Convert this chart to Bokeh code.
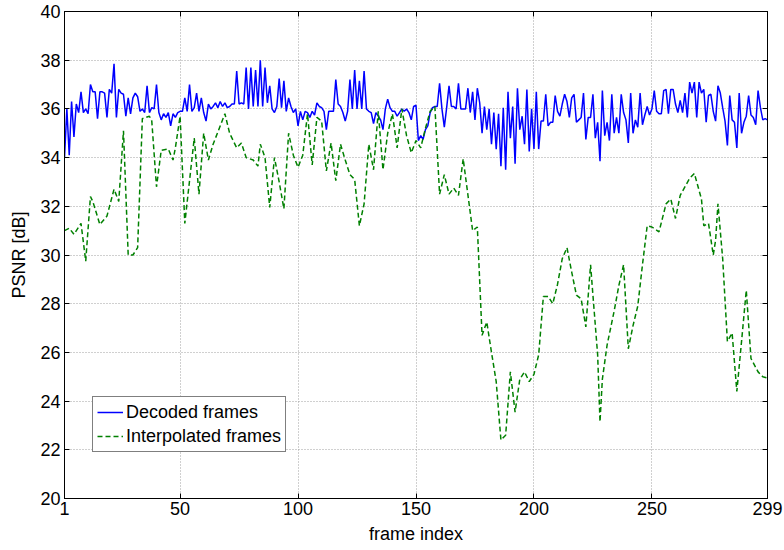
from bokeh.plotting import figure
from bokeh.models import Range1d, FixedTicker, LinearAxis, Legend, LegendItem, CustomJSTickFormatter
from bokeh.embed import file_html
from bokeh.resources import INLINE

# ---- data ----
decoded_frames = list(range(1, 300))
decoded_psnr = [
    34.0, 36.0, 34.1, 36.3, 34.85, 36.2, 35.85, 36.7, 35.85, 36.0,
    35.8, 37.0, 36.7, 36.7, 35.6, 36.7, 36.7, 36.65, 35.65, 36.8,
    36.65, 37.85, 35.65, 36.8, 36.65, 36.6, 35.7, 36.45, 35.8, 36.45,
    36.65, 36.5, 35.9, 36.0, 35.85, 36.95, 35.85, 36.05, 36.0, 37.0,
    35.85, 35.55, 35.8, 35.65, 35.85, 35.3, 35.8, 35.65, 35.85, 35.9,
    35.9, 36.45, 35.9, 37.0, 35.9, 36.05, 36.65, 35.9, 36.45, 35.85,
    35.5, 36.2, 36.0, 36.1, 36.25, 36.05, 36.3, 36.1, 36.25, 36.05,
    36.1, 36.2, 36.2, 37.55, 36.2, 36.25, 36.2, 37.7, 36.0, 37.7,
    36.1, 37.6, 36.1, 38.0, 36.1, 37.7, 36.25, 36.95, 36.0, 35.85,
    36.1, 37.25, 36.05, 37.15, 35.9, 36.45, 36.1, 35.85, 36.0, 35.3,
    35.9, 35.55, 35.9, 35.85, 35.65, 35.9, 35.75, 36.25, 36.1, 36.05,
    35.9, 35.15, 35.9, 35.9, 35.9, 37.2, 36.2, 36.1, 35.85, 35.5,
    35.9, 37.2, 36.0, 37.6, 36.0, 37.15, 36.0, 37.55, 36.0, 35.9,
    35.85, 35.4, 35.85, 35.7, 35.55, 35.15, 36.0, 36.4, 36.05, 35.9,
    35.9, 35.7, 35.85, 36.0, 35.9, 36.0, 35.85, 35.55, 36.1, 36.15,
    34.7, 34.9, 34.75, 35.15, 35.3, 35.85, 36.05, 36.1, 36.1, 37.05,
    36.0, 35.25, 36.05, 36.95, 36.1, 36.1, 36.0, 37.05, 36.0, 36.0,
    36.0, 36.85, 35.85, 36.7, 35.55, 36.85, 36.25, 35.0, 36.1, 35.15,
    36.0, 34.55, 35.85, 34.35, 35.8, 33.65, 36.05, 33.5, 36.7, 34.8,
    36.1, 33.75, 36.85, 35.15, 35.7, 34.55, 36.8, 34.25, 36.0, 34.35,
    36.7, 34.35, 35.5, 35.5, 36.6, 35.3, 35.45, 35.45, 36.55, 35.9,
    35.7, 36.2, 36.6, 36.3, 35.65, 36.45, 36.6, 35.45, 35.55, 35.65,
    36.65, 34.75, 35.65, 35.65, 36.6, 34.8, 35.45, 33.85, 36.75, 34.9,
    35.45, 34.7, 36.6, 35.0, 35.65, 35.0, 36.6, 35.85, 35.55, 34.6,
    36.65, 35.0, 35.55, 35.25, 36.65, 35.35, 35.75, 36.1, 35.75, 36.0,
    36.75, 35.9, 35.8, 35.8, 36.75, 36.8, 35.8, 36.8, 36.8, 36.2,
    35.85, 36.35, 35.85, 36.65, 35.65, 37.1, 36.65, 37.1, 35.65, 37.1,
    36.65, 36.8, 35.45, 36.55, 36.6, 35.9, 35.5, 36.95, 36.65, 36.05,
    35.5, 34.5, 36.55, 35.55, 35.45, 34.4, 36.65, 35.0, 35.45, 35.7,
    36.55, 35.75, 35.65, 35.35, 36.75, 36.05, 35.55, 35.6, 35.55,
]

interp_frames = [
    1, 3, 5, 8, 10, 12, 13, 16, 19, 22, 24, 26, 28, 30, 32, 34, 37, 38, 40, 42,
    45, 47, 48, 50, 52, 56, 58, 60, 62, 64, 69, 71, 74, 76, 78, 81, 83, 84, 86, 88,
    90, 92, 94, 96, 98, 100, 102, 104, 106, 108, 110, 112, 114, 116, 118, 120, 122, 124, 126, 128,
    130, 132, 134, 136, 138, 140, 142, 144, 146, 148, 150, 152, 154, 156, 158, 160, 162, 164, 166, 168,
    170, 174, 176, 178, 180, 182, 184, 186, 188, 190, 192, 194, 196, 198, 200, 202, 204, 206, 208, 210,
    212, 214, 216, 218, 220, 222, 224, 225, 227, 228, 229, 231, 234, 236, 238, 240, 242, 244, 246, 248,
    250, 253, 256, 258, 260, 262, 266, 268, 271, 272, 274, 276, 277, 278, 280, 282, 284, 286, 288, 290,
    292, 295, 297, 299,
]
interp_psnr = [
    31.0, 31.1, 30.85, 31.3, 29.75, 32.4, 32.2, 31.25, 31.6, 32.7, 32.2, 35.1, 30.0, 30.0, 30.3, 35.6, 35.7, 35.5, 32.8, 34.3,
    34.35, 33.9, 34.4, 35.7, 31.3, 34.8, 32.5, 35.0, 33.9, 34.55, 35.8, 35.0, 34.4, 34.6, 34.0, 33.9, 33.65, 34.55, 34.0, 31.95,
    34.0, 33.0, 31.9, 35.0, 34.1, 33.6, 34.1, 35.8, 33.7, 35.65, 35.5, 33.45, 34.6, 33.05, 34.55, 33.9, 33.3, 33.1, 31.2, 32.1,
    34.55, 33.5, 35.9, 33.5, 35.0, 35.8, 34.4, 36.0, 34.9, 34.2, 34.7, 34.4, 35.2, 35.9, 36.1, 32.5, 33.3, 32.5, 32.75, 32.45,
    33.95, 31.0, 31.15, 26.7, 27.25, 26.0, 24.8, 22.4, 22.6, 25.2, 23.55, 24.9, 25.2, 24.8, 25.1, 25.9, 28.3, 28.3, 28.0, 28.8,
    29.85, 30.3, 29.3, 28.35, 28.2, 27.05, 29.6, 28.35, 25.9, 23.15, 24.9, 26.3, 27.7, 28.75, 29.6, 26.15, 27.1, 27.9, 29.6, 31.2,
    31.15, 30.95, 32.1, 32.3, 31.5, 32.45, 33.15, 33.35, 32.3, 31.2, 31.3, 30.0, 30.6, 32.1, 29.85, 26.45, 26.8, 24.4, 26.45, 28.55,
    25.75, 25.2, 25.0, 24.95,
]

x_ticks = [1, 50, 100, 150, 200, 250, 299]
y_ticks = [20, 22, 24, 26, 28, 30, 32, 34, 36, 38, 40]
series_names = ["Decoded frames", "Interpolated frames"]

FONT = "Liberation Sans"
FS = "18px"

p = figure(width=784, height=550, output_backend="svg", toolbar_location=None,
           x_range=Range1d(1, 299), y_range=Range1d(20, 40),
           x_axis_label="frame index", y_axis_label="PSNR [dB]")
p.min_border_left = 64
p.min_border_right = 17
p.min_border_top = 11
p.min_border_bottom = 52
p.background_fill_color = "white"
p.border_fill_color = "white"
p.outline_line_color = "black"
p.outline_line_width = 1

r1 = p.line(decoded_frames, decoded_psnr, line_color="#0000ff", line_width=1.5)
r2 = p.line(interp_frames, interp_psnr, line_color="#008000", line_width=1.5,
            line_dash="5 3")

for ax in (p.xaxis[0], p.yaxis[0]):
    ax.major_tick_in = 5
    ax.major_tick_out = 0
    ax.minor_tick_line_color = None
    ax.axis_line_color = "black"
    ax.major_label_text_font = FONT
    ax.major_label_text_font_size = FS
    ax.major_label_text_color = "black"
    ax.axis_label_text_font = FONT
    ax.axis_label_text_font_size = FS
    ax.axis_label_text_font_style = "normal"
    ax.axis_label_text_color = "black"
p.xaxis[0].ticker = FixedTicker(ticks=x_ticks)
p.yaxis[0].ticker = FixedTicker(ticks=y_ticks)
p.xaxis[0].major_label_standoff = 3
p.xaxis[0].axis_label_standoff = 6
p.yaxis[0].major_label_standoff = 4
p.yaxis[0].axis_label_standoff = 8

top = LinearAxis(ticker=FixedTicker(ticks=x_ticks))
right = LinearAxis(ticker=FixedTicker(ticks=y_ticks))
for ax in (top, right):
    ax.major_tick_in = 5
    ax.major_tick_out = 0
    ax.minor_tick_line_color = None
    ax.formatter = CustomJSTickFormatter(code="return '';")
    ax.major_label_standoff = 0
    ax.axis_line_color = "black"
p.add_layout(top, "above")
p.add_layout(right, "right")

p.xgrid.ticker = FixedTicker(ticks=x_ticks)
p.ygrid.ticker = FixedTicker(ticks=y_ticks)
for g in (p.xgrid[0], p.ygrid[0]):
    g.grid_line_color = "#a0a0a0"
    g.grid_line_dash = "1 2"
    g.grid_line_width = 1

legend = Legend(items=[LegendItem(label=series_names[0], renderers=[r1]),
                       LegendItem(label=series_names[1], renderers=[r2])],
                location=(28, 46))
legend.label_text_font = FONT
legend.label_text_font_size = FS
legend.label_text_color = "black"
legend.border_line_color = "black"
legend.border_line_width = 1
legend.background_fill_color = "white"
legend.background_fill_alpha = 1
legend.padding = 4
legend.spacing = 2
legend.margin = 0
legend.glyph_width = 26
legend.glyph_height = 22
legend.label_height = 22
legend.label_standoff = 3
p.add_layout(legend, "center")

open("out.html", "w").write(file_html(p, INLINE))
